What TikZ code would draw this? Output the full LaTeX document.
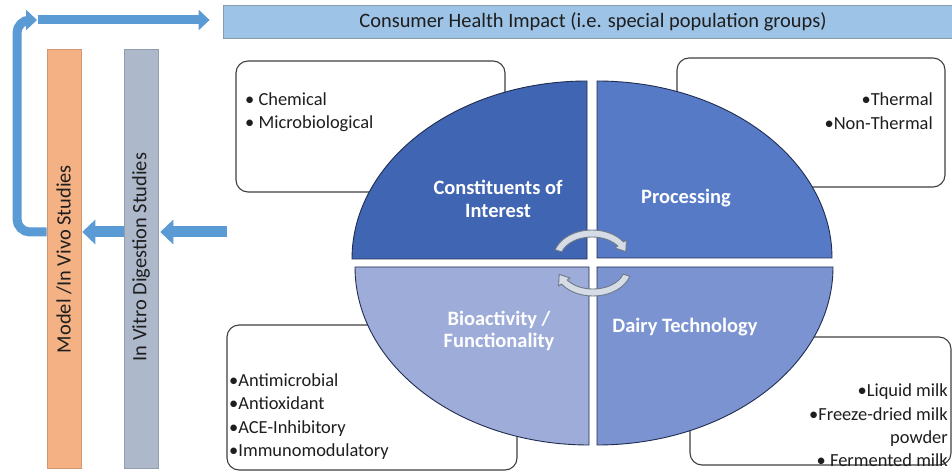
\documentclass[tikz,border=0pt]{standalone}
\usepackage{fontspec}
\setmainfont{Carlito}
\usetikzlibrary{arrows.meta}
\definecolor{qone}{RGB}{64,101,178}
\definecolor{qtwo}{RGB}{87,122,199}
\definecolor{qthree}{RGB}{157,172,217}
\definecolor{qfour}{RGB}{123,147,208}
\definecolor{qline}{RGB}{32,45,80}
\definecolor{topfill}{RGB}{157,195,230}
\definecolor{topline}{RGB}{140,155,170}
\definecolor{modelfill}{RGB}{244,177,131}
\definecolor{vitrofill}{RGB}{173,185,202}
\definecolor{arrowblue}{RGB}{91,155,213}
\definecolor{circfill}{RGB}{214,220,229}
\definecolor{circline}{RGB}{110,120,135}
\definecolor{boxline}{RGB}{64,64,64}
\definecolor{txt}{RGB}{30,30,30}
\begin{document}
\begin{tikzpicture}[x=1bp,y=-1bp,
  infobox/.style={draw=boxline, line width=1.1bp, fill=white, rounded corners=12bp, inner sep=0pt},
  bartext/.style={inner sep=0pt, font=\fontsize{20.5}{24}\selectfont, text=txt},
  boxtext/.style={inner sep=0pt, font=\fontsize{18.5}{23.5}\selectfont, text=txt},
  quadlabel/.style={inner sep=0pt, align=center, text=white, font=\bfseries\fontsize{20.5}{22.5}\selectfont},
  quad/.style={draw=qline, line width=0.9bp},
  bigarrow/.style={draw=arrowblue, line width=11bp, -{Triangle[length=13bp,width=24bp]}},
  thinarrow/.style={draw=arrowblue, line width=9bp, -{Triangle[length=11bp,width=20bp]}},
  circarrow/.style={fill=circfill, draw=circline, line width=0.9bp, line join=round}
]
\useasboundingbox (0,0) rectangle (952,473);
\fill[white] (0,0) rectangle (952,473);

% top bar
\node[draw=topline, line width=0.8bp, fill=topfill, minimum width=740bp, minimum height=33bp, inner sep=0pt] (topbar) at (593,21.5) {};
\node[inner sep=0pt, font=\fontsize{20.5}{24}\selectfont, text=txt] (toptext) at (593,21.5) {Consumer Health Impact (i.e. special population groups)};

% vertical bars
\node[draw=modelfill!85!black, line width=0.6bp, fill=modelfill, minimum width=34bp, minimum height=419bp, inner sep=0pt] (model) at (64,258.5) {};
\node[bartext] (modeltext) at (64,259) {\rotatebox{90}{Model /In Vivo Studies}};
\node[draw=vitrofill!85!black, line width=0.6bp, fill=vitrofill, minimum width=34bp, minimum height=419bp, inner sep=0pt] (vitro) at (141,258.5) {};
\node[bartext] (vitrotext) at (141,257) {\rotatebox{90}{In Vitro Digestion Studies}};

% arrows on the left
\coordinate (feed) at (227,232);
\coordinate (loopx) at (17,20);
\coordinate (bendtip) at (37,20);
\draw[bigarrow] (feed) -- ([xshift=2bp]vitro.east |- feed);
\draw[bigarrow] (vitro.west |- feed) -- ([xshift=1bp]model.east |- feed);
\draw[thinarrow, rounded corners=13bp] (model.west |- feed) -| (loopx) -- (bendtip);
\draw[thinarrow] ([xshift=1bp]bendtip) -- ([xshift=-13bp]topbar.west |- bendtip);

% info boxes
\node[infobox, minimum width=269bp, minimum height=131bp] (boxtl) at (370.5,126.5) {};
\node[infobox, minimum width=268bp, minimum height=129bp] (boxtr) at (811,122.5) {};
\node[infobox, minimum width=290bp, minimum height=145bp] (boxbl) at (372,397.5) {};
\node[infobox, minimum width=261bp, minimum height=128bp] (boxbr) at (820.5,401) {};

\node[boxtext, align=left, anchor=west] (ttl) at (245,112) {• Chemical\\• Microbiological};
\node[boxtext, align=right, anchor=east] (ttr) at (933,111) {•Thermal\\•Non-Thermal};
\node[boxtext, align=left, anchor=west] (tbl) at (229,416.5) {•Antimicrobial\\•Antioxidant\\•ACE-Inhibitory\\•Immunomodulatory};
\node[boxtext, align=right, anchor=east] (tbr) at (948,425.5) {•Liquid milk\\•Freeze-dried milk\\powder\\• Fermented milk};

% quadrants
\filldraw[quad, fill=qone] (587,259) -- (352,259) arc[start angle=180, end angle=270, x radius=235, y radius=178] -- cycle;
\filldraw[quad, fill=qtwo] (597,258) -- (597,81) arc[start angle=270, end angle=360, x radius=235, y radius=177] -- cycle;
\filldraw[quad, fill=qthree] (589,267) -- (589,445) arc[start angle=90, end angle=180, x radius=234, y radius=178] -- cycle;
\filldraw[quad, fill=qfour] (597,267) -- (833,267) arc[start angle=0, end angle=90, x radius=236, y radius=178] -- cycle;

\node[quadlabel] (lq1) at (498,199) {Constituents of\\Interest};
\node[quadlabel] (lq2) at (686,198) {Processing};
\node[quadlabel] (lq3) at (499,331) {Bioactivity /\\Functionality};
\node[quadlabel] (lq4) at (685,327) {Dairy Technology};

% circular arrows
\begin{scope}[shift={(592,258)}]
\filldraw[circarrow] (197:38.5 and 28) arc[start angle=197, end angle=325, x radius=38.5, y radius=28] -- (325:42 and 31.5) -- (345:35 and 24.5) -- (325:28 and 17.5) -- (325:31.5 and 21) arc[start angle=325, end angle=197, x radius=31.5, y radius=21] -- cycle;
\end{scope}
\begin{scope}[shift={(593,268)}]
\filldraw[circarrow] (17:38.5 and 28) arc[start angle=17, end angle=145, x radius=38.5, y radius=28] -- (145:42 and 31.5) -- (165:35 and 24.5) -- (145:28 and 17.5) -- (145:31.5 and 21) arc[start angle=145, end angle=17, x radius=31.5, y radius=21] -- cycle;
\end{scope}
\end{tikzpicture}
\end{document}
